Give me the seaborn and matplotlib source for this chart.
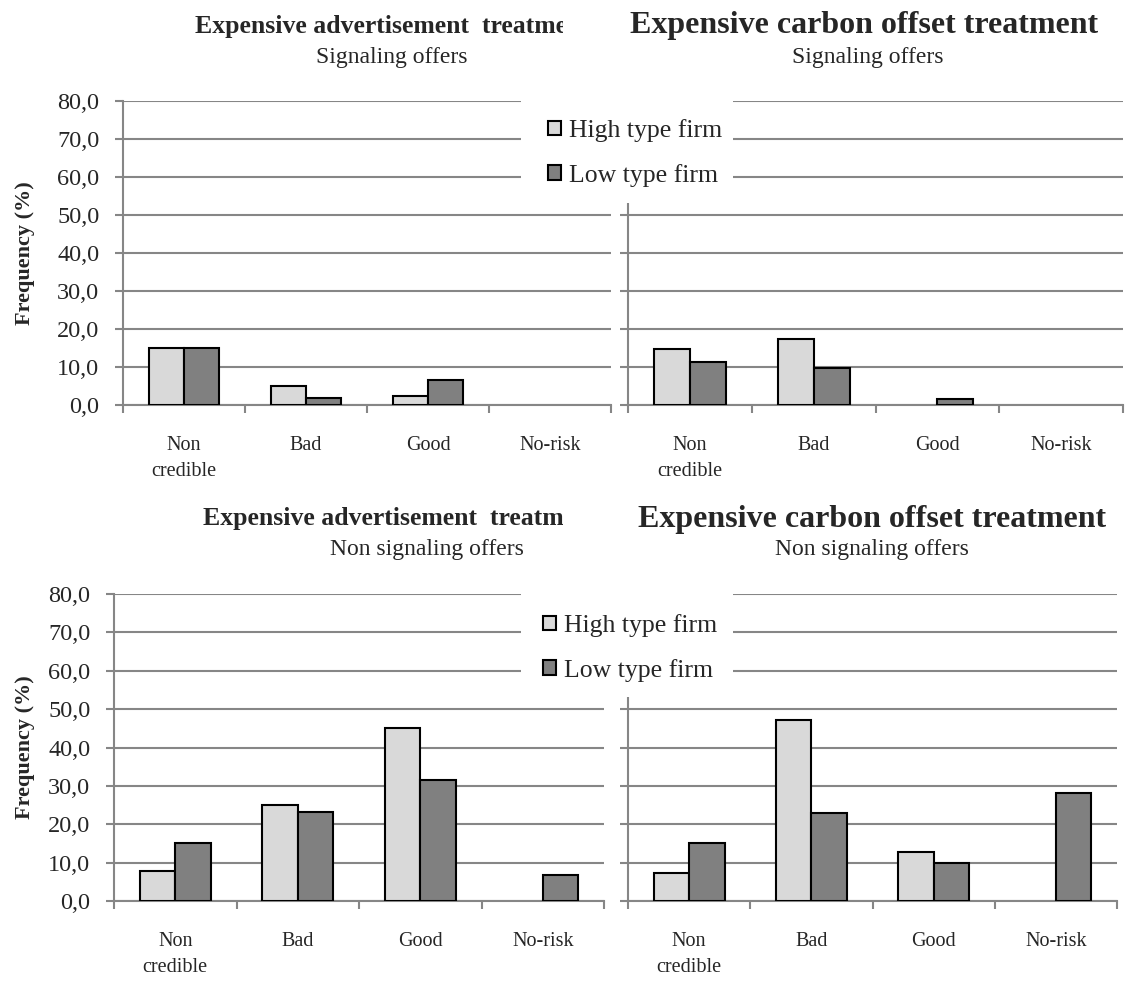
import numpy as np
import pandas as pd
import seaborn as sns
import matplotlib
matplotlib.use("Agg")
import matplotlib.pyplot as plt
from matplotlib.patches import Patch
from matplotlib.transforms import Bbox, TransformedBbox

sns.set_theme(style="white")
plt.rcParams["font.family"] = ["Liberation Serif", "DejaVu Serif"]

categories = ["Non\ncredible", "Bad", "Good", "No-risk"]
firms = ["High type firm", "Low type firm"]

adv_signal_high = [15.0, 4.9, 2.4, 0.0]
adv_signal_low = [15.0, 1.8, 6.7, 0.0]
carbon_signal_high = [14.8, 17.3, 0.0, 0.0]
carbon_signal_low = [11.4, 9.8, 1.6, 0.0]
adv_nonsignal_high = [7.7, 25.1, 45.0, 0.0]
adv_nonsignal_low = [15.0, 23.2, 31.5, 6.7]
carbon_nonsignal_high = [7.4, 47.2, 12.7, 0.0]
carbon_nonsignal_low = [15.0, 23.0, 9.8, 28.2]

y_ticks = [0, 10, 20, 30, 40, 50, 60, 70, 80]
y_tick_labels = ["0,0", "10,0", "20,0", "30,0", "40,0", "50,0", "60,0", "70,0", "80,0"]

treatments = ["Expensive advertisement  treatment", "Expensive carbon offset treatment"]
offer_types = ["Signaling offers", "Non signaling offers"]

GRID = "#868686"
PALETTE = {"High type firm": "#d9d9d9", "Low type firm": "#808080"}

W, H = 1142, 983
fig = plt.figure(figsize=(W / 100, H / 100), dpi=100)


def frame(x0, x1, ytop, ybot):
    return [x0 / W, 1 - ybot / H, (x1 - x0) / W, (ybot - ytop) / H]


def long_table(high, low):
    rows = []
    for c, h, l in zip(categories, high, low):
        rows.append({"category": c, "firm": firms[0], "value": h})
        rows.append({"category": c, "firm": firms[1], "value": l})
    return pd.DataFrame(rows)


def panel(rect, high, low, show_labels):
    ax = fig.add_axes(rect)
    df = long_table(high, low)
    sns.barplot(data=df, x="category", y="value", hue="firm", order=categories,
                hue_order=firms, palette=PALETTE, width=0.58, edgecolor="black",
                linewidth=1.5, saturation=1, errorbar=None, ax=ax, zorder=3,
                legend=False)
    # empty categories leave no outline on the baseline
    for cont in ax.containers:
        for p in cont.patches:
            if p.get_height() == 0:
                p.set_visible(False)
    ax.set_xlim(-0.5, 3.5)
    ax.set_ylim(0, 80)
    ax.set_yticks(y_ticks)
    ax.set_yticklabels(y_tick_labels if show_labels else [])
    ax.yaxis.grid(True, color=GRID, linewidth=1.5, zorder=0)
    ax.set_axisbelow(True)
    ax.set_xticks(np.arange(-0.5, 4.0, 1.0))
    ax.set_xticklabels([])
    ax.set_xticks(np.arange(4), minor=True)
    ax.set_xticklabels(categories, minor=True, fontsize=14.5, linespacing=1.5,
                       va="top")
    ax.tick_params(axis="x", which="minor", length=0, pad=22)
    ax.tick_params(axis="both", which="major", direction="out", length=6,
                   width=1.5, color=GRID, left=True, bottom=True)
    ax.tick_params(axis="y", labelsize=17.5, pad=11)
    ax.set_xlabel("")
    ax.set_ylabel("")
    for s in ["top", "right"]:
        ax.spines[s].set_visible(False)
    for s in ["left", "bottom"]:
        ax.spines[s].set_color(GRID)
        ax.spines[s].set_linewidth(1.5)
    return ax


def clipped_text(x, y, s, clip_right, **kw):
    t = fig.text(x / W, 1 - y / H, s, ha="center", va="center", **kw)
    t.set_clip_box(TransformedBbox(Bbox([[0, 0], [clip_right / W, 1]]), fig.transFigure))
    t.set_clip_on(True)
    return t


legend_handles = [Patch(facecolor=PALETTE[f], edgecolor="black", linewidth=1.5, label=f)
                  for f in firms]

rows = [
    dict(ytop=101, ybot=405, left=(123, 611), right=(628, 1123),
         data=((adv_signal_high, adv_signal_low), (carbon_signal_high, carbon_signal_low)),
         ty=26, sy=58, offer=offer_types[0], lcx=(392, 392), rcx=(864, 868),
         box=(521, 733, 88, 203), legx=548, legy=(130, 176)),
    dict(ytop=594, ybot=901, left=(114, 604), right=(628, 1117),
         data=((adv_nonsignal_high, adv_nonsignal_low), (carbon_nonsignal_high, carbon_nonsignal_low)),
         ty=519, sy=550, offer=offer_types[1], lcx=(400, 427), rcx=(872, 872),
         box=(521, 733, 581, 697), legx=543, legy=(626, 670)),
]

for r in rows:
    panel(frame(*r["left"], r["ytop"], r["ybot"]), *r["data"][0], True)
    panel(frame(*r["right"], r["ytop"], r["ybot"]), *r["data"][1], False)
    fig.text(25 / W, 1 - ((r["ytop"] + r["ybot"]) / 2) / H, "Frequency (%)",
             rotation=90, ha="center", va="center", fontsize=16, fontweight="bold")

    clipped_text(r["lcx"][0], r["ty"], treatments[0], 563, fontsize=18.5, fontweight="bold")
    clipped_text(r["lcx"][1], r["sy"], r["offer"], W, fontsize=17)
    clipped_text(r["rcx"][0], r["ty"], treatments[1], W, fontsize=23, fontweight="bold")
    clipped_text(r["rcx"][1], r["sy"], r["offer"], W, fontsize=17)

    bx0, bx1, by0, by1 = r["box"]
    fig.patches.append(plt.Rectangle((bx0 / W, 1 - by1 / H), (bx1 - bx0) / W,
                                     (by1 - by0) / H, transform=fig.transFigure,
                                     facecolor="white", edgecolor="none", zorder=5))
    leg = fig.legend(handles=legend_handles, loc="center left",
                     bbox_to_anchor=(r["legx"] / W, 1 - (sum(r["legy"]) / 2) / H),
                     frameon=False, fontsize=18.5, handlelength=0.5, handleheight=0.5,
                     handletextpad=0.3, labelspacing=0.85, borderpad=0, borderaxespad=0)
    leg.set_zorder(6)

fig.savefig("out.png", dpi=100, facecolor="white")
